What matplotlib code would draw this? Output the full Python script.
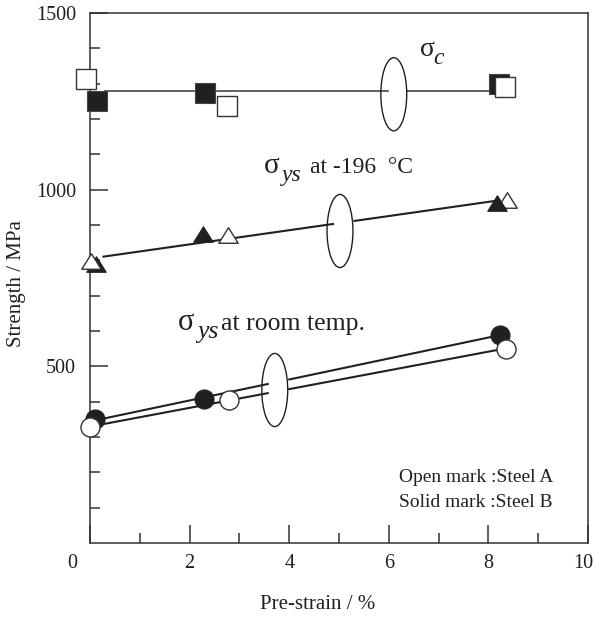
import matplotlib
matplotlib.use("Agg")
import matplotlib.pyplot as plt
import numpy as np
from matplotlib.patches import Ellipse
from matplotlib.path import Path
from matplotlib.transforms import ScaledTranslation

plt.rcParams['font.family'] = ['Liberation Serif', 'DejaVu Serif']

# ---- data: pre-strain (%) and strength (MPa) ----
# fracture strength sigma_c (squares)
sc_A_x = [-0.08, 2.75, 8.33]
sc_A_y = [1314, 1237, 1291]
sc_B_x = [0.14, 2.31, 8.21]
sc_B_y = [1252, 1275, 1300]

# yield strength at -196 C (triangles)
lt_A_x = [0.02, 2.77, 8.37]
lt_A_y = [798, 871, 970]
lt_B_x = [0.12, 2.27, 8.18]
lt_B_y = [790, 875, 962]

# yield strength at room temperature (circles)
rt_A_x = [0.01, 2.79, 8.35]
rt_A_y = [328, 406, 550]
rt_B_x = [0.11, 2.29, 8.24]
rt_B_y = [351, 407, 590]

x_ticks = [0, 2, 4, 6, 8, 10]
x_ticklabels = ['0', '2', '4', '6', '8', '10']
y_ticks = [500, 1000, 1500]
y_ticklabels = ['500', '1000', '1500']

INK = '#231f20'

fig = plt.figure(figsize=(5.95, 6.17), dpi=100)
ax = fig.add_axes([90 / 595, (617 - 543) / 617, 498 / 595, 530 / 617])
ax.set_xlim(0, 10)
ax.set_ylim(0, 1500)

# triangle marker a bit flatter than matplotlib's default
tri = Path([(0, 0.8), (-1, -0.8), (1, -0.8), (0, 0.8)],
           [Path.MOVETO, Path.LINETO, Path.LINETO, Path.CLOSEPOLY])


def fit_line(xs, ys, x0, x1, gap, color=INK, lw=1.5):
    coef = np.polyfit(xs, ys, 1)
    for a, b in ((x0, gap[0]), (gap[1], x1)):
        xx = np.array([a, b])
        ax.plot(xx, np.polyval(coef, xx), color=color, lw=lw, zorder=2,
                solid_capstyle='butt')


def loop(cx, cy):
    ax.add_patch(Ellipse((cx, cy), 0.52, 207, fill=False, ec=INK, lw=1.0, zorder=3))


# sigma_c: horizontal level at the mean of all squares
sc_level = np.mean(sc_A_y + sc_B_y)
for a, b in ((0.3, 5.98), (6.37, 8.2)):
    ax.plot([a, b], [sc_level, sc_level], color='#555555', lw=1.3, zorder=2)
loop(6.1, 1270)

# -196 C: one line through both steels
fit_line(lt_A_x + lt_B_x, lt_A_y + lt_B_y, 0.25, 8.15, (4.9, 5.29))
loop(5.02, 883)

# room temperature: one line per steel
fit_line(rt_B_x, rt_B_y, 0.2, 8.1, (3.59, 3.98))
fit_line(rt_A_x, rt_A_y, 0.2, 8.2, (3.59, 3.98))
loop(3.71, 433)

mk = dict(linestyle='none', clip_on=False)
ax.plot(sc_B_x, sc_B_y, marker='s', ms=15, mfc=INK, mec='#444444', mew=0.8, zorder=4, **mk)
ax.plot(sc_A_x, sc_A_y, marker='s', ms=15, mfc='white', mec='#333333', mew=1.0, zorder=5, **mk)
ax.plot(lt_A_x, lt_A_y, marker=tri, ms=14, mfc='white', mec='#333333', mew=1.0, zorder=4, **mk)
ax.plot(lt_B_x[1:], lt_B_y[1:], marker=tri, ms=14, mfc=INK, mec=INK, mew=0.8, zorder=5, **mk)
ax.plot(lt_B_x[:1], lt_B_y[:1], marker=tri, ms=14, mfc=INK, mec=INK, mew=0.8, zorder=3.5, **mk)
ax.plot(rt_B_x, rt_B_y, marker='o', ms=13.7, mfc=INK, mec=INK, mew=0.8, zorder=4, **mk)
ax.plot(rt_A_x, rt_A_y, marker='o', ms=13.7, mfc='white', mec='#333333', mew=1.0, zorder=5, **mk)


# series labels: upright sigma, italic lowered suffix, then plain text
def sigma_label(x, y, sub, rest, sub_dx, rest_dx, size, sig_size):
    ax.annotate('σ', (x, y), fontsize=sig_size, ha='left', va='baseline', color=INK)
    ax.annotate(sub, (x, y), xytext=(sub_dx, -6.0), textcoords='offset points',
                fontsize=size, style='italic', ha='left', va='baseline', color=INK)
    if rest:
        ax.annotate(rest, (x, y), xytext=(rest_dx, 0), textcoords='offset points',
                    fontsize=size, ha='left', va='baseline', color=INK)


sigma_label(6.63, 1378, 'c', '', 9.6, 0, 17, 20)
sigma_label(3.49, 1047, 'ys', 'at -196  °C', 13, 33, 17, 21)
sigma_label(1.77, 603, 'ys', 'at room temp.', 13.7, 31, 18.5, 22)

ax.text(6.2, 172, 'Open mark :Steel A', fontsize=14, color=INK, va='baseline')
ax.text(6.2, 102, 'Solid mark :Steel B', fontsize=14, color=INK, va='baseline')

# axes styling
for s in ax.spines.values():
    s.set_linewidth(1.1)
    s.set_color('#333333')
ax.set_xticks(x_ticks)
ax.set_xticklabels(x_ticklabels)
ax.set_xticks([1, 3, 5, 7, 9], minor=True)
ax.set_yticks(y_ticks)
ax.set_yticklabels(y_ticklabels)
ax.set_yticks([100, 200, 300, 400, 600, 700, 800, 900, 1100, 1200, 1300, 1400], minor=True)
ax.tick_params(which='both', direction='in', width=1.1, color='#333333',
               labelsize=14.5, labelcolor=INK)
ax.tick_params(which='major', length=13)
ax.tick_params(which='minor', length=7)
ax.tick_params(axis='x', pad=8)
ax.tick_params(axis='y', pad=10)
xlabels = ax.get_xticklabels()
xlabels[0].set_transform(xlabels[0].get_transform()
                         + ScaledTranslation(-0.18, 0, fig.dpi_scale_trans))
xlabels[-1].set_transform(xlabels[-1].get_transform()
                          + ScaledTranslation(-0.05, 0, fig.dpi_scale_trans))

ax.set_xlabel('Pre-strain / %', fontsize=15, color=INK)
ax.xaxis.set_label_coords(0.458, -0.098)
ax.set_ylabel('Strength / MPa', fontsize=15, color=INK)
ax.yaxis.set_label_coords(-0.128, 0.489)

fig.savefig('out.png', dpi=100)
